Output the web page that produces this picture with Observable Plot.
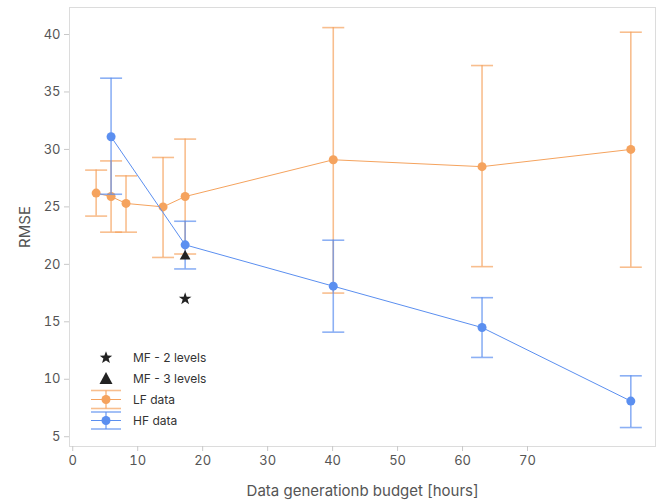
<!DOCTYPE html>
<html>
<head>
<meta charset="utf-8">
<script src="https://cdn.jsdelivr.net/npm/d3@7"></script>
<script src="https://cdn.jsdelivr.net/npm/@observablehq/plot@0.6"></script>
<style>
  html, body { margin: 0; padding: 0; background: #fff; }
  #wrap { position: relative; width: 664px; height: 502px; font-family: Inter, Roboto, "Noto Sans", sans-serif; }
  #legend { position: absolute; left: 90px; top: 347px; font-size: 12px; color: #333; }
  #legend .row { display: flex; align-items: center; height: 21px; }
  #legend svg { width: 32px; height: 21px; margin-right: 11px; }
  g[aria-label="x-axis label"] text, g[aria-label="y-axis label"] text { font-size: 15px; }
</style>
</head>
<body>
<div id="wrap"><div id="chart"></div><div id="legend"></div></div>
<script>
// Values (x against the drawn axis)
const lfHours = [3.6, 5.9, 8.2, 13.9, 17.3, 40.1, 63.0, 85.9];
const lfRmse  = [26.2, 25.9, 25.3, 25.0, 25.9, 29.1, 28.5, 30.0];
const lfLow   = [24.2, 22.8, 22.8, 20.6, 20.9, 17.5, 19.8, 19.75];
const lfHigh  = [28.2, 29.0, 27.7, 29.3, 30.9, 40.6, 37.3, 40.2];

const hfHours = [5.9, 17.3, 40.1, 63.0, 85.9];
const hfRmse  = [31.1, 21.7, 18.1, 14.5, 8.1];
const hfLow   = [26.1, 19.6, 14.1, 11.9, 5.8];
const hfHigh  = [36.2, 23.75, 22.1, 17.1, 10.3];

const mfHours = [17.3];
const mf2Rmse = [17.0];
const mf3Rmse = [20.7];

const xTicks = [0, 10, 20, 30, 40, 50, 60, 70];
const yTicks = [5, 10, 15, 20, 25, 30, 35, 40];

const labels = ["MF - 2 levels", "MF - 3 levels", "LF data", "HF data"];

const ORANGE = "#f5a35e";
const BLUE = "#5b8ff0";

const lf = lfHours.map((h, i) => ({h, v: lfRmse[i], lo: lfLow[i], hi: lfHigh[i]}));
const hf = hfHours.map((h, i) => ({h, v: hfRmse[i], lo: hfLow[i], hi: hfHigh[i]}));
const mf = mfHours.map((h, i) => ({h, v2: mf2Rmse[i], v3: mf3Rmse[i]}));

const cap = { draw(ctx) { ctx.moveTo(-11, 0); ctx.lineTo(11, 0); } };

function series(data, color) {
  return [
    Plot.ruleX(data, {x: "h", y1: "lo", y2: "hi", stroke: color, strokeWidth: 1.6, strokeOpacity: 0.7}),
    Plot.dot(data, {x: "h", y: "lo", symbol: cap, fill: "none", stroke: color, strokeWidth: 1.6, strokeOpacity: 0.7}),
    Plot.dot(data, {x: "h", y: "hi", symbol: cap, fill: "none", stroke: color, strokeWidth: 1.6, strokeOpacity: 0.7}),
    Plot.line(data, {x: "h", y: "v", stroke: color, strokeWidth: 1}),
    Plot.dot(data, {x: "h", y: "v", r: 4.5, fill: color, stroke: "none"})
  ];
}

const chart = Plot.plot({
  width: 664,
  height: 502,
  marginLeft: 69,
  marginRight: 9,
  marginTop: 7,
  marginBottom: 56,
  style: {fontFamily: "Inter, Roboto, sans-serif", fontSize: "13px", background: "#fff"},
  x: {domain: [-0.5, 89.7]},
  y: {domain: [4.15, 42.35]},
  marks: [
    Plot.frame({stroke: "#dcdcdc"}),
    Plot.axisX({ticks: xTicks, tickSize: 5, tickPadding: 4, stroke: "#c8c8c8", color: "#555",
      label: "Data generationb budget [hours]", labelAnchor: "center", labelArrow: "none", labelOffset: 49}),
    Plot.axisY({ticks: yTicks, tickSize: 5, tickPadding: 4, stroke: "#c8c8c8", color: "#555",
      label: "RMSE", labelAnchor: "center", labelArrow: "none", labelOffset: 50}),
    ...series(lf, ORANGE),
    ...series(hf, BLUE),
    Plot.dot(mf, {x: "h", y: "v3", symbol: "triangle", r: 4, fill: "#222", stroke: "none"}),
    Plot.dot(mf, {x: "h", y: "v2", symbol: "star", r: 4, fill: "#222", stroke: "none"})
  ]
});
document.getElementById("chart").appendChild(chart);

// Legend
const icons = [
  `<path d="M16,4.2 L17.6,8.6 L22.2,8.7 L18.6,11.5 L19.9,16 L16,13.4 L12.1,16 L13.4,11.5 L9.8,8.7 L14.4,8.6 Z" fill="#222"/>`,
  `<path d="M16,4 L22.5,16 L9.5,16 Z" fill="#222"/>`,
  `<g stroke="${ORANGE}"><line x1="1" x2="31" y1="10.5" y2="10.5" stroke-width="1"/><line x1="16" x2="16" y1="1.5" y2="19.5" stroke-opacity="0.7" stroke-width="1.6"/><line x1="1" x2="31" y1="1.5" y2="1.5" stroke-opacity="0.7" stroke-width="1.6"/><line x1="1" x2="31" y1="19.5" y2="19.5" stroke-opacity="0.7" stroke-width="1.6"/></g><circle cx="16" cy="10.5" r="4.5" fill="${ORANGE}"/>`,
  `<g stroke="${BLUE}"><line x1="1" x2="31" y1="10.5" y2="10.5" stroke-width="1"/><line x1="16" x2="16" y1="2" y2="19" stroke-opacity="0.7" stroke-width="1.6"/><line x1="1" x2="31" y1="2" y2="2" stroke-opacity="0.7" stroke-width="1.6"/><line x1="1" x2="31" y1="19" y2="19" stroke-opacity="0.7" stroke-width="1.6"/></g><circle cx="16" cy="10.5" r="4.5" fill="${BLUE}"/>`
];
document.getElementById("legend").innerHTML = labels.map((t, i) =>
  `<div class="row"><svg viewBox="0 0 32 21">${icons[i]}</svg><span>${t}</span></div>`).join("");
</script>
</body>
</html>
